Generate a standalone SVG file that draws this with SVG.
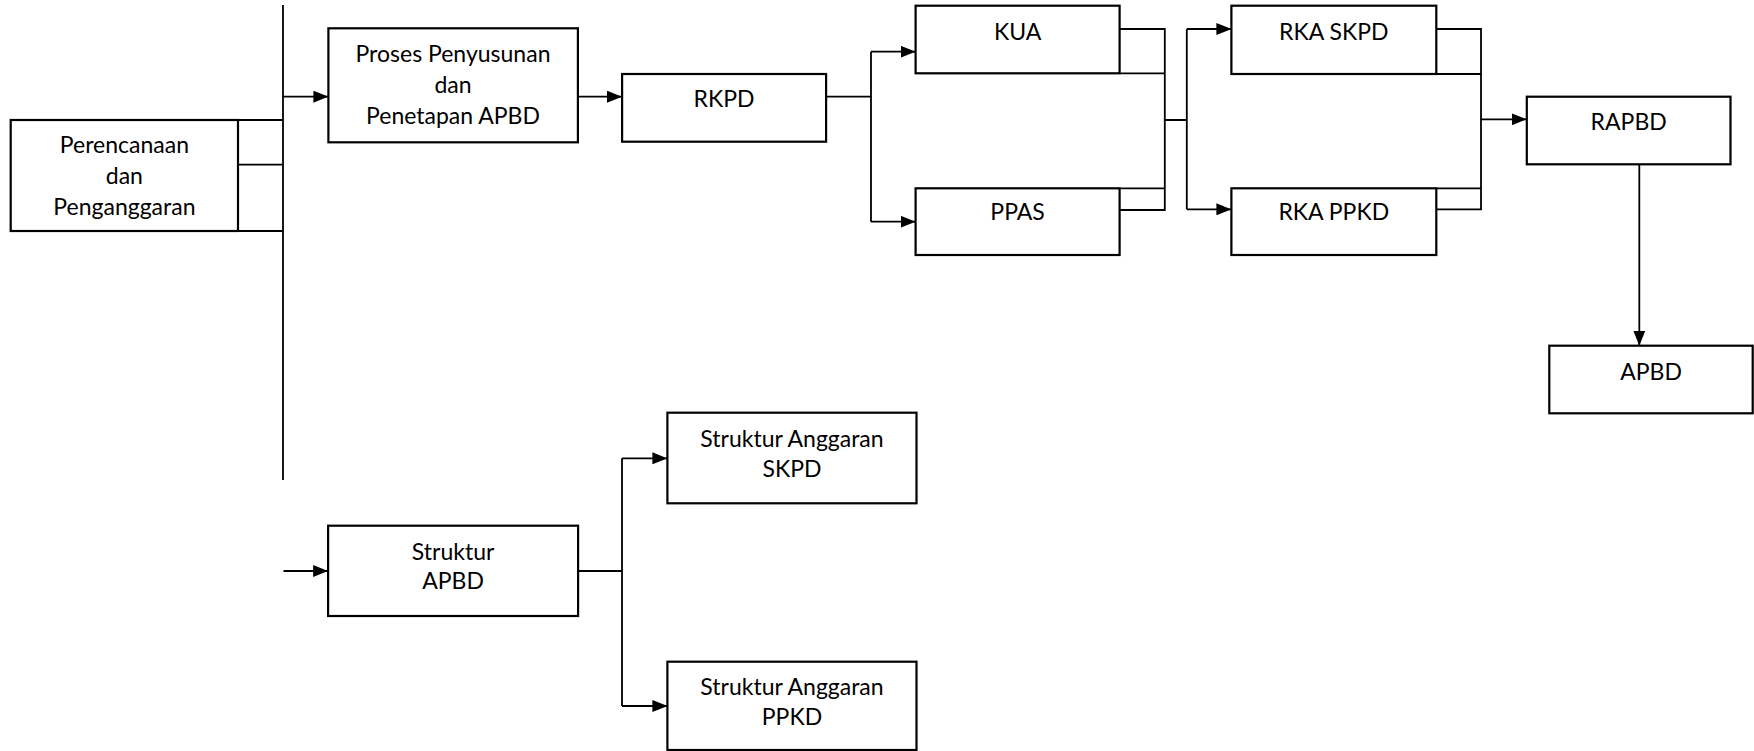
<svg xmlns="http://www.w3.org/2000/svg" width="1754" height="751" viewBox="0 0 1754 751">
  <style>
    .box { fill: #ffffff; stroke: #000000; stroke-width: 2.2; }
    .link { fill: none; stroke: #000000; stroke-width: 1.8; }
    .lbl { font-family: Lato, "Liberation Sans", sans-serif; font-size: 23px; fill: #000000; text-anchor: middle; }
  </style>
  <defs>
    <marker id="arrow" markerUnits="userSpaceOnUse" markerWidth="15" markerHeight="12" refX="15" refY="6" orient="auto">
      <path d="M0,0 L15,6 L0,12 z" fill="#000000"/>
    </marker>
  </defs>
  <rect width="1754" height="751" fill="#ffffff"/>

  <!-- connectors -->
  <g id="connectors">
    <path class="link" d="M238,120 H283 M238,164.7 H283 M238,231 H283"/>
    <path class="link" d="M283,5 V480"/>
    <path class="link" d="M283,96.7 H328.4" marker-end="url(#arrow)"/>
    <path class="link" d="M578,96.7 H622" marker-end="url(#arrow)"/>
    <path class="link" d="M826,96.7 H871 M871,51.7 V221.7"/>
    <path class="link" d="M871,51.7 H915.6" marker-end="url(#arrow)"/>
    <path class="link" d="M871,221.7 H915.6" marker-end="url(#arrow)"/>
    <path class="link" d="M1119.6,29 H1164.8 V210 H1119.6 M1119.6,73.3 H1164.8 M1119.6,188.3 H1164.8 M1164.8,120 H1186.8 M1186.8,29 V209.3"/>
    <path class="link" d="M1186.8,29 H1231.4" marker-end="url(#arrow)"/>
    <path class="link" d="M1186.8,209.3 H1231.4" marker-end="url(#arrow)"/>
    <path class="link" d="M1436.3,29 H1481 V209.3 H1436.3 M1436.3,74 H1481 M1436.3,188.3 H1481"/>
    <path class="link" d="M1481,119.3 H1526.8" marker-end="url(#arrow)"/>
    <path class="link" d="M1639.3,164.3 V345.7" marker-end="url(#arrow)"/>
    <path class="link" d="M283.5,571 H328.1" marker-end="url(#arrow)"/>
    <path class="link" d="M578,571 H622 M622,458.3 V706"/>
    <path class="link" d="M622,458.3 H667.4" marker-end="url(#arrow)"/>
    <path class="link" d="M622,706 H667.4" marker-end="url(#arrow)"/>
  </g>

  <g id="perencanaan">
    <rect class="box" x="10.7" y="120" width="227.3" height="111"/>
    <text class="lbl" x="124.4" y="153">Perencanaan</text>
    <text class="lbl" x="124.4" y="184">dan</text>
    <text class="lbl" x="124.4" y="215">Penganggaran</text>
  </g>

  <g id="proses">
    <rect class="box" x="328.4" y="28.3" width="249.5" height="114"/>
    <text class="lbl" x="453" y="62">Proses Penyusunan</text>
    <text class="lbl" x="453" y="93">dan</text>
    <text class="lbl" x="453" y="124">Penetapan APBD</text>
  </g>

  <g id="rkpd">
    <rect class="box" x="622.1" y="74" width="204" height="67.7"/>
    <text class="lbl" x="724.1" y="107">RKPD</text>
  </g>

  <g id="kua">
    <rect class="box" x="915.6" y="5.7" width="204" height="67.6"/>
    <text class="lbl" x="1017.6" y="40">KUA</text>
  </g>

  <g id="ppas">
    <rect class="box" x="915.6" y="188.3" width="204" height="66.7"/>
    <text class="lbl" x="1017.6" y="220">PPAS</text>
  </g>

  <g id="rka-skpd">
    <rect class="box" x="1231.4" y="5.7" width="204.9" height="68.3"/>
    <text class="lbl" x="1333.8" y="40">RKA SKPD</text>
  </g>

  <g id="rka-ppkd">
    <rect class="box" x="1231.4" y="188.3" width="204.9" height="66.7"/>
    <text class="lbl" x="1333.8" y="220">RKA PPKD</text>
  </g>

  <g id="rapbd">
    <rect class="box" x="1526.8" y="96.7" width="203.7" height="67.6"/>
    <text class="lbl" x="1628.7" y="130">RAPBD</text>
  </g>

  <g id="apbd">
    <rect class="box" x="1549.3" y="345.7" width="203.4" height="67.6"/>
    <text class="lbl" x="1651" y="380">APBD</text>
  </g>

  <g id="struktur-apbd">
    <rect class="box" x="328.1" y="525.7" width="250" height="90.3"/>
    <text class="lbl" x="453.1" y="560">Struktur</text>
    <text class="lbl" x="453.1" y="589.3">APBD</text>
  </g>

  <g id="struktur-skpd">
    <rect class="box" x="667.4" y="412.7" width="249.1" height="90.6"/>
    <text class="lbl" x="792" y="446.7">Struktur Anggaran</text>
    <text class="lbl" x="792" y="477.3">SKPD</text>
  </g>

  <g id="struktur-ppkd">
    <rect class="box" x="667.4" y="661.7" width="249.1" height="88.3"/>
    <text class="lbl" x="792" y="695">Struktur Anggaran</text>
    <text class="lbl" x="792" y="725">PPKD</text>
  </g>
</svg>
